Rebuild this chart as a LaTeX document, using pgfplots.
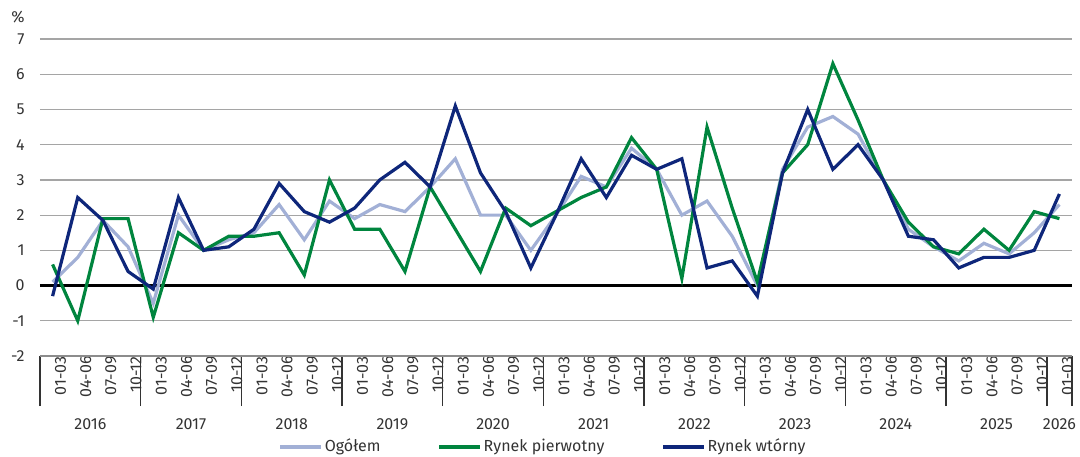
\documentclass[border=0pt]{standalone}
\usepackage{pgfplots}
\pgfplotsset{compat=1.18}
\usepackage{pgfplotstable}
\usepackage{fontspec}
\setmainfont{Fira Sans}
\definecolor{cLight}{RGB}{162,176,214}
\definecolor{cGreen}{RGB}{0,133,62}
\definecolor{cNavy}{RGB}{14,38,122}
\definecolor{cText}{RGB}{51,51,51}
\definecolor{cGrid}{RGB}{165,165,165}

\pgfplotstableread{
i ogolem pierw wtorny
0 0.1 0.6 -0.3
1 0.8 -1.0 2.5
2 1.85 1.9 1.85
3 1.1 1.9 0.4
4 -0.5 -0.9 -0.1
5 2.0 1.5 2.5
6 1.0 1.0 1.0
7 1.3 1.4 1.1
8 1.5 1.4 1.6
9 2.3 1.5 2.9
10 1.3 0.3 2.1
11 2.4 3.0 1.8
12 1.9 1.6 2.2
13 2.3 1.6 3.0
14 2.1 0.4 3.5
15 2.8 2.8 2.8
16 3.6 1.6 5.1
17 2.0 0.4 3.2
18 2.0 2.2 2.1
19 1.0 1.7 0.5
20 2.0 2.1 2.0
21 3.1 2.5 3.6
22 2.8 2.8 2.5
23 3.9 4.2 3.7
24 3.3 3.3 3.3
25 2.0 0.2 3.6
26 2.4 4.5 0.5
27 1.4 2.2 0.7
28 0.0 0.1 -0.3
29 3.3 3.2 3.2
30 4.5 4.0 5.0
31 4.8 6.3 3.3
32 4.3 4.7 4.0
33 3.0 3.0 3.0
34 1.6 1.8 1.4
35 1.1 1.1 1.3
36 0.7 0.9 0.5
37 1.2 1.6 0.8
38 0.9 1.0 0.8
39 1.5 2.1 1.0
40 2.3 1.9 2.6
}\datatable

\begin{document}
\begin{tikzpicture}[font=\fontsize{8}{10}\selectfont, every node/.style={text=cText}]
\path[use as bounding box] (0,0) rectangle (540pt,228pt);
\begin{axis}[
  at={(20pt,50pt)}, anchor=south west,
  scale only axis, width=516pt, height=158.5pt,
  xmin=-0.5, xmax=40.5, ymin=-2, ymax=7,
  clip=false,
  axis line style={draw=none},
  xtick pos=bottom, ytick pos=left,
  ytick={-2,...,7},
  ymajorgrids, grid style={cGrid, line width=0.6pt},
  major tick length=0pt,
  xtick={0,...,40},
  xticklabels={01-03,04-06,07-09,10-12,01-03,04-06,07-09,10-12,01-03,04-06,07-09,10-12,01-03,04-06,07-09,10-12,01-03,04-06,07-09,10-12,01-03,04-06,07-09,10-12,01-03,04-06,07-09,10-12,01-03,04-06,07-09,10-12,01-03,04-06,07-09,10-12,01-03,04-06,07-09,10-12,01-03},
  xticklabel style={rotate=90, anchor=east, inner sep=0pt, yshift=-4pt, font=\fontsize{8}{10}\selectfont, text=cText},
  yticklabel style={anchor=east, inner sep=0pt, xshift=-7.5pt, font=\fontsize{8}{10}\selectfont, text=cText},
  /pgf/number format/assume math mode=true,
  extra x ticks={-0.5,3.5,7.5,11.5,15.5,19.5,23.5,27.5,31.5,35.5,39.5,40.5},
  extra x tick labels={},
  extra x tick style={grid=none, major tick length=25pt, tick align=outside, tick style={black!80, line width=0.7pt}},
  legend style={at={(axis description cs:0.5,0)}, anchor=center, xshift=-6.5pt, yshift=-45.5pt, draw=none, fill=none,
    legend columns=3, font=\fontsize{8}{10}\selectfont, text=cText,
    /tikz/every even column/.append style={column sep=27.5pt},
    nodes={inner xsep=1pt}},
  legend image code/.code={\draw[#1, line width=1.6pt] (0pt,0pt) -- (20.5pt,0pt);},
]
\draw[black!45, line width=0.8pt] (axis cs:-0.5,-2) -- (axis cs:40.5,-2);
\draw[black, line width=1.1pt] (axis cs:-0.5,0) -- (axis cs:40.5,0);
\addplot[cLight, line width=1.6pt] table[x=i, y=ogolem] {\datatable};
\addlegendentry{Ogółem}
\addplot[cGreen, line width=1.6pt] table[x=i, y=pierw] {\datatable};
\addlegendentry{Rynek pierwotny}
\addplot[cNavy, line width=1.6pt] table[x=i, y=wtorny] {\datatable};
\addlegendentry{Rynek wtórny}
\node at (axis cs:1.5,-2) [yshift=-34pt] {2016};
\node at (axis cs:5.5,-2) [yshift=-34pt] {2017};
\node at (axis cs:9.5,-2) [yshift=-34pt] {2018};
\node at (axis cs:13.5,-2) [yshift=-34pt] {2019};
\node at (axis cs:17.5,-2) [yshift=-34pt] {2020};
\node at (axis cs:21.5,-2) [yshift=-34pt] {2021};
\node at (axis cs:25.5,-2) [yshift=-34pt] {2022};
\node at (axis cs:29.5,-2) [yshift=-34pt] {2023};
\node at (axis cs:33.5,-2) [yshift=-34pt] {2024};
\node at (axis cs:37.5,-2) [yshift=-34pt] {2025};
\node at (axis cs:40,-2) [yshift=-34pt] {2026};
\node at (rel axis cs:0,1) [xshift=-11pt, yshift=11pt] {\%};
\end{axis}
\end{tikzpicture}
\end{document}
